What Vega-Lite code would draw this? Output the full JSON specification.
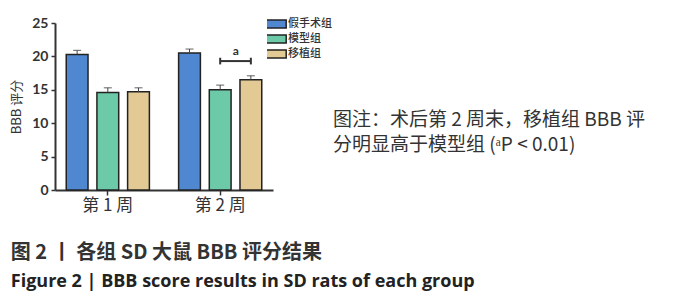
{
  "$schema": "https://vega.github.io/schema/vega-lite/v6.json",
  "padding": {"left": 10, "top": 16, "right": 5, "bottom": 5},
  "background": "white",
  "datasets": {
    "bars": [
      {"week": "第 1 周", "group": "假手术组", "mean": 20.3, "upper": 20.9},
      {"week": "第 1 周", "group": "模型组", "mean": 14.6, "upper": 15.3},
      {"week": "第 1 周", "group": "移植组", "mean": 14.7, "upper": 15.3},
      {"week": "第 2 周", "group": "假手术组", "mean": 20.5, "upper": 21.1},
      {"week": "第 2 周", "group": "模型组", "mean": 15.0, "upper": 15.7},
      {"week": "第 2 周", "group": "移植组", "mean": 16.5, "upper": 17.1}
    ],
    "bracket": [
      {"week": "第 2 周", "group": "模型组", "y": 19.3, "lo": 18.8, "hi": 19.8},
      {"week": "第 2 周", "group": "移植组", "y": 19.3, "lo": 18.8, "hi": 19.8}
    ],
    "sig": [
      {"week": "第 2 周", "group": "模型组", "y": 20.8, "label": "a"}
    ],
    "note": [
      {"line": 1, "text": "图注：术后第 2 周末，移植组 BBB 评"},
      {"line": 2, "text": "分明显高于模型组 (ᵃP < 0.01)"}
    ]
  },
  "title": {
    "text": "图 2  丨  各组 SD 大鼠 BBB 评分结果",
    "subtitle": "Figure 2  |  BBB score results in SD rats of each group",
    "orient": "bottom",
    "anchor": "start",
    "frame": "bounds",
    "offset": 30,
    "font": "Noto Sans CJK SC",
    "fontSize": 20,
    "fontWeight": "bold",
    "color": "#333333",
    "subtitleFont": "Open Sans",
    "subtitleFontSize": 18,
    "subtitleFontWeight": "bold",
    "subtitleColor": "#222222",
    "subtitlePadding": 10
  },
  "hconcat": [
    {
      "width": 218,
      "height": 167,
      "layer": [
        {
          "data": {"name": "bars"},
          "mark": {"type": "bar", "stroke": "#222222", "strokeWidth": 1.5},
          "encoding": {
            "x": {"field": "week", "type": "nominal", "sort": null,
                  "scale": {"paddingInner": 0.26, "paddingOuter": 0.1},
                  "axis": {"title": null, "labelAngle": 0, "domainWidth": 2, "domainColor": "#333333",
                           "tickColor": "#333333", "tickWidth": 1.5, "tickSize": 5,
                           "labelFont": "Noto Sans CJK SC", "labelFontSize": 17, "labelColor": "#333333", "labelPadding": 2}},
            "xOffset": {"field": "group", "type": "nominal", "sort": ["假手术组", "模型组", "移植组"],
                        "scale": {"paddingInner": 0.29, "paddingOuter": 0}},
            "y": {"field": "mean", "type": "quantitative",
                  "scale": {"domain": [0, 25], "nice": false},
                  "axis": {"title": "BBB 评分", "values": [0, 5, 10, 15, 20, 25], "grid": false,
                           "labelOverlap": false, "labelFlush": false,
                           "domainWidth": 2, "domainColor": "#333333", "tickColor": "#333333",
                           "tickWidth": 1.5, "tickSize": 4, "labelFont": "Lato", "labelFontSize": 14,
                           "labelColor": "#333333", "labelFontWeight": "bold", "labelPadding": 3,
                           "titleFont": "Noto Sans CJK SC", "titleFontSize": 13, "titleFontWeight": "normal",
                           "titleColor": "#333333", "titlePadding": 8}},
            "color": {"field": "group", "type": "nominal", "sort": ["假手术组", "模型组", "移植组"],
                      "scale": {"domain": ["假手术组", "模型组", "移植组"], "range": ["#4f88d0", "#6dcaa8", "#e3c993"]},
                      "legend": {"title": null, "orient": "none", "legendX": 212, "legendY": -6,
                                 "symbolType": "M-1.6,-0.57H1.6V0.57H-1.6Z", "symbolSize": 196,
                                 "symbolStrokeColor": "#222222", "symbolStrokeWidth": 1.5,
                                 "labelFont": "Noto Sans CJK SC", "labelFontSize": 11, "labelFontWeight": 500, "labelColor": "#333333",
                                 "labelOffset": 5, "rowPadding": 1, "clipHeight": 14}}
          }
        },
        {
          "data": {"name": "bars"},
          "mark": {"type": "rule", "color": "#444444", "strokeWidth": 1},
          "encoding": {
            "x": {"field": "week", "type": "nominal", "sort": null},
            "xOffset": {"field": "group", "type": "nominal", "sort": ["假手术组", "模型组", "移植组"]},
            "y": {"field": "mean", "type": "quantitative",
                  "axis": {"title": "BBB 评分", "values": [0, 5, 10, 15, 20, 25], "grid": false,
                           "labelOverlap": false, "labelFlush": false,
                           "domainWidth": 2, "domainColor": "#333333", "tickColor": "#333333",
                           "tickWidth": 1.5, "tickSize": 4, "labelFont": "Lato", "labelFontSize": 14,
                           "labelColor": "#333333", "labelFontWeight": "bold", "labelPadding": 3,
                           "titleFont": "Noto Sans CJK SC", "titleFontSize": 13, "titleFontWeight": "normal",
                           "titleColor": "#333333", "titlePadding": 8}},
            "y2": {"field": "upper"}
          }
        },
        {
          "data": {"name": "bars"},
          "mark": {"type": "tick", "color": "#444444", "thickness": 1.2, "size": 8},
          "encoding": {
            "x": {"field": "week", "type": "nominal", "sort": null},
            "xOffset": {"field": "group", "type": "nominal", "sort": ["假手术组", "模型组", "移植组"]},
            "y": {"field": "upper", "type": "quantitative",
                  "axis": {"title": "BBB 评分", "values": [0, 5, 10, 15, 20, 25], "grid": false,
                           "labelOverlap": false, "labelFlush": false,
                           "domainWidth": 2, "domainColor": "#333333", "tickColor": "#333333",
                           "tickWidth": 1.5, "tickSize": 4, "labelFont": "Lato", "labelFontSize": 14,
                           "labelColor": "#333333", "labelFontWeight": "bold", "labelPadding": 3,
                           "titleFont": "Noto Sans CJK SC", "titleFontSize": 13, "titleFontWeight": "normal",
                           "titleColor": "#333333", "titlePadding": 8}}
          }
        },
        {
          "data": {"name": "bracket"},
          "mark": {"type": "line", "color": "#333333", "strokeWidth": 2},
          "encoding": {
            "x": {"field": "week", "type": "nominal", "sort": null},
            "xOffset": {"field": "group", "type": "nominal", "sort": ["假手术组", "模型组", "移植组"]},
            "y": {"field": "y", "type": "quantitative",
                  "axis": {"title": "BBB 评分", "values": [0, 5, 10, 15, 20, 25], "grid": false,
                           "labelOverlap": false, "labelFlush": false,
                           "domainWidth": 2, "domainColor": "#333333", "tickColor": "#333333",
                           "tickWidth": 1.5, "tickSize": 4, "labelFont": "Lato", "labelFontSize": 14,
                           "labelColor": "#333333", "labelFontWeight": "bold", "labelPadding": 3,
                           "titleFont": "Noto Sans CJK SC", "titleFontSize": 13, "titleFontWeight": "normal",
                           "titleColor": "#333333", "titlePadding": 8}}
          }
        },
        {
          "data": {"name": "bracket"},
          "mark": {"type": "rule", "color": "#333333", "strokeWidth": 2},
          "encoding": {
            "x": {"field": "week", "type": "nominal", "sort": null},
            "xOffset": {"field": "group", "type": "nominal", "sort": ["假手术组", "模型组", "移植组"]},
            "y": {"field": "lo", "type": "quantitative",
                  "axis": {"title": "BBB 评分", "values": [0, 5, 10, 15, 20, 25], "grid": false,
                           "labelOverlap": false, "labelFlush": false,
                           "domainWidth": 2, "domainColor": "#333333", "tickColor": "#333333",
                           "tickWidth": 1.5, "tickSize": 4, "labelFont": "Lato", "labelFontSize": 14,
                           "labelColor": "#333333", "labelFontWeight": "bold", "labelPadding": 3,
                           "titleFont": "Noto Sans CJK SC", "titleFontSize": 13, "titleFontWeight": "normal",
                           "titleColor": "#333333", "titlePadding": 8}},
            "y2": {"field": "hi"}
          }
        },
        {
          "data": {"name": "sig"},
          "mark": {"type": "text", "dx": 15.5, "font": "Lato", "fontSize": 12, "fontWeight": "bold", "color": "#333333", "baseline": "middle"},
          "encoding": {
            "x": {"field": "week", "type": "nominal", "sort": null},
            "xOffset": {"field": "group", "type": "nominal", "sort": ["假手术组", "模型组", "移植组"]},
            "y": {"field": "y", "type": "quantitative",
                  "axis": {"title": "BBB 评分", "values": [0, 5, 10, 15, 20, 25], "grid": false,
                           "labelOverlap": false, "labelFlush": false,
                           "domainWidth": 2, "domainColor": "#333333", "tickColor": "#333333",
                           "tickWidth": 1.5, "tickSize": 4, "labelFont": "Lato", "labelFontSize": 14,
                           "labelColor": "#333333", "labelFontWeight": "bold", "labelPadding": 3,
                           "titleFont": "Noto Sans CJK SC", "titleFontSize": 13, "titleFontWeight": "normal",
                           "titleColor": "#333333", "titlePadding": 8}},
            "text": {"field": "label"}
          }
        }
      ]
    },
    {
      "width": 20,
      "height": 167,
      "data": {"name": "note"},
      "mark": {"type": "text", "align": "left", "baseline": "middle", "font": "Noto Sans CJK SC", "fontSize": 19, "color": "#333333"},
      "encoding": {
        "y": {"field": "line", "type": "quantitative",
              "scale": {"domain": [-2.88, 3.8], "reverse": true, "nice": false, "zero": false},
              "axis": null},
        "text": {"field": "text"}
      }
    }
  ],
  "spacing": 50,
  "bounds": "flush",
  "config": {
    "view": {"stroke": null},
    "font": "Noto Sans CJK SC"
  }
}
